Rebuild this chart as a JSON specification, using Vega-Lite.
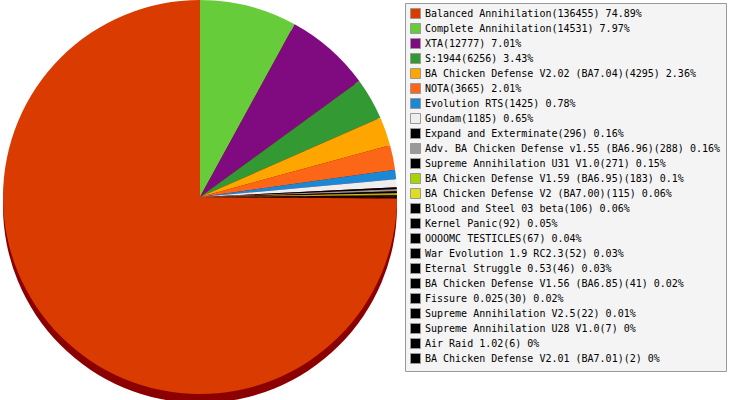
{
  "$schema": "https://vega.github.io/schema/vega-lite/v6.json",
  "description": "Share of games played by mod, 3D-style pie with legend.",
  "width": 400,
  "height": 388,
  "padding": 0,
  "background": "#ffffff",
  "config": {
    "view": {"stroke": null},
    "legend": {
      "labelFont": "DejaVu Sans Mono",
      "labelFontSize": 10,
      "labelColor": "#000000",
      "labelLimit": 400
    }
  },
  "data": {
    "values": [
      {"idx": 1, "label": "Balanced Annihilation(136455) 74.89%", "games": 136455},
      {"idx": 2, "label": "Complete Annihilation(14531) 7.97%", "games": 14531},
      {"idx": 3, "label": "XTA(12777) 7.01%", "games": 12777},
      {"idx": 4, "label": "S:1944(6256) 3.43%", "games": 6256},
      {"idx": 5, "label": "BA Chicken Defense V2.02 (BA7.04)(4295) 2.36%", "games": 4295},
      {"idx": 6, "label": "NOTA(3665) 2.01%", "games": 3665},
      {"idx": 7, "label": "Evolution RTS(1425) 0.78%", "games": 1425},
      {"idx": 8, "label": "Gundam(1185) 0.65%", "games": 1185},
      {"idx": 9, "label": "Expand and Exterminate(296) 0.16%", "games": 296},
      {"idx": 10, "label": "Adv. BA Chicken Defense v1.55 (BA6.96)(288) 0.16%", "games": 288},
      {"idx": 11, "label": "Supreme Annihilation U31 V1.0(271) 0.15%", "games": 271},
      {"idx": 12, "label": "BA Chicken Defense V1.59 (BA6.95)(183) 0.1%", "games": 183},
      {"idx": 13, "label": "BA Chicken Defense V2 (BA7.00)(115) 0.06%", "games": 115},
      {"idx": 14, "label": "Blood and Steel 03 beta(106) 0.06%", "games": 106},
      {"idx": 15, "label": "Kernel Panic(92) 0.05%", "games": 92},
      {"idx": 16, "label": "OOOOMC TESTICLES(67) 0.04%", "games": 67},
      {"idx": 17, "label": "War Evolution 1.9 RC2.3(52) 0.03%", "games": 52},
      {"idx": 18, "label": "Eternal Struggle 0.53(46) 0.03%", "games": 46},
      {"idx": 19, "label": "BA Chicken Defense V1.56 (BA6.85)(41) 0.02%", "games": 41},
      {"idx": 20, "label": "Fissure 0.025(30) 0.02%", "games": 30},
      {"idx": 21, "label": "Supreme Annihilation V2.5(22) 0.01%", "games": 22},
      {"idx": 22, "label": "Supreme Annihilation U28 V1.0(7) 0%", "games": 7},
      {"idx": 23, "label": "Air Raid 1.02(6) 0%", "games": 6},
      {"idx": 24, "label": "BA Chicken Defense V2.01 (BA7.01)(2) 0%", "games": 2}
    ]
  },
  "layer": [
    {
      "mark": {"type": "arc", "radius": 197, "yOffset": 9, "color": "#8b0000"},
      "encoding": {
        "theta": {
          "field": "games",
          "type": "quantitative",
          "stack": true,
          "scale": {"range": [1.5778, 7.861]}
        },
        "order": {"field": "idx", "type": "quantitative"}
      }
    },
    {
      "mark": {"type": "arc", "radius": 197},
      "encoding": {
        "theta": {
          "field": "games",
          "type": "quantitative",
          "stack": true,
          "scale": {"range": [1.5778, 7.861]}
        },
        "order": {"field": "idx", "type": "quantitative"},
        "color": {
          "field": "label",
          "type": "nominal",
          "sort": {"field": "idx"},
          "scale": {
            "range": [
              "#da3b01", "#66cc3a", "#800b80", "#339933", "#ffa500",
              "#fc6617", "#1b88d6", "#eeeeee", "#000000", "#999999",
              "#000000", "#a6d600", "#dddd22", "#000000", "#000000",
              "#000000", "#000000", "#000000", "#000000", "#000000",
              "#000000", "#000000", "#000000", "#000000"
            ]
          },
          "legend": {
            "title": null,
            "orient": "none",
            "legendX": 405,
            "legendY": 0,
            "padding": 5,
            "fillColor": "#f4f4f4",
            "strokeColor": "#999999",
            "symbolType": "square",
            "symbolSize": 100,
            "symbolStrokeColor": "#999999",
            "symbolStrokeWidth": 1,
            "symbolOpacity": 1,
            "labelOffset": 4,
            "rowPadding": 0
          }
        }
      }
    }
  ]
}
